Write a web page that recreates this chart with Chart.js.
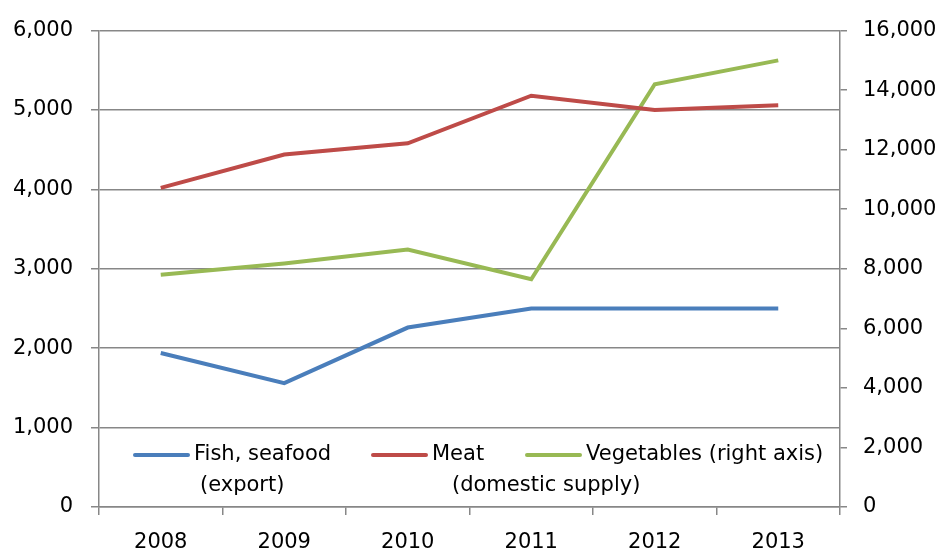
<!DOCTYPE html>
<html>
<head>
<meta charset="utf-8">
<script src="https://cdn.jsdelivr.net/npm/chart.js@4/dist/chart.umd.min.js"></script>
<style>
html,body{margin:0;padding:0;background:#fff;}
#wrap{width:941px;height:554px;}
</style>
</head>
<body>
<div id="wrap"><canvas id="chart"></canvas></div>
<script>
// data
const years = ['2008', '2009', '2010', '2011', '2012', '2013'];
const fishExport = [1940, 1560, 2260, 2500, 2500, 2500];
const meatSupply = [4020, 4440, 4580, 5180, 5000, 5060];
const vegetables = [7800, 8180, 8650, 7650, 14200, 15000];
const seriesNames = [['Fish, seafood', '(export)'], ['Meat', '(domestic supply)'], ['Vegetables (right axis)']];
const leftMax = 6000, leftStep = 1000;
const rightMax = 16000, rightStep = 2000;

const FONT_FAMILY = '"DejaVu Sans", sans-serif';
const FONT_SIZE = 21;
const GRID = '#878787';

//#####################
// Legend drawn inside the plot, with wrapped labels
//#####################
const wrappedLegend = {
    id: 'wrappedLegend',
    afterDraw(chart) {
        const ctx = chart.ctx;
        const area = chart.chartArea;
        const starts = [36, 274, 428];
        const indents = [6, 20, 0];
        ctx.save();
        ctx.font = FONT_SIZE + 'px ' + FONT_FAMILY;
        ctx.textBaseline = 'middle';
        ctx.textAlign = 'left';
        chart.data.datasets.forEach((ds, i) => {
            const x = area.left + starts[i];
            const y = area.bottom - 52;
            ctx.strokeStyle = ds.borderColor;
            ctx.lineWidth = 4;
            ctx.lineCap = 'round';
            ctx.beginPath();
            ctx.moveTo(x, y);
            ctx.lineTo(x + 53, y);
            ctx.stroke();
            ctx.fillStyle = '#000';
            ctx.fillText(ds.label[0], x + 59, y);
            if (ds.label[1]) ctx.fillText(ds.label[1], x + 59 + indents[i], y + 31);
        });
        ctx.restore();
    }
};

const fmt = v => v.toLocaleString('en-US');

const lineStyle = (color) => ({
    borderColor: color,
    backgroundColor: color,
    borderWidth: 4,
    pointRadius: 0,
    tension: 0,
    fill: false
});

new Chart(document.getElementById('chart'), {
    type: 'line',
    data: {
        labels: years,
        datasets: [
            Object.assign({ label: seriesNames[0], data: fishExport, yAxisID: 'y' }, lineStyle('#4a7ebb')),
            Object.assign({ label: seriesNames[1], data: meatSupply, yAxisID: 'y' }, lineStyle('#be4b48')),
            Object.assign({ label: seriesNames[2], data: vegetables, yAxisID: 'y2' }, lineStyle('#98b954'))
        ]
    },
    options: {
        responsive: true,
        maintainAspectRatio: false,
        animation: false,
        layout: { padding: { top: 28, left: 0, right: 0, bottom: 0 } },
        plugins: {
            legend: { display: false },
            tooltip: { enabled: false }
        },
        scales: {
            x: {
                offset: true,
                afterFit: s => { s.height = 47; },
                grid: { offset: true, drawOnChartArea: false, tickLength: 8, color: GRID, lineWidth: 1.5 },
                border: { color: GRID, width: 1.5 },
                ticks: { color: '#000', padding: 15, font: { family: FONT_FAMILY, size: FONT_SIZE } }
            },
            y: {
                position: 'left',
                min: 0,
                max: leftMax,
                afterFit: s => { s.width = 99; },
                grid: { color: GRID, lineWidth: 1.5, tickLength: 8 },
                border: { color: GRID, width: 1.5 },
                ticks: { stepSize: leftStep, color: '#000', padding: 18, callback: fmt,
                         font: { family: FONT_FAMILY, size: FONT_SIZE } }
            },
            y2: {
                position: 'right',
                min: 0,
                max: rightMax,
                afterFit: s => { s.width = 101; },
                grid: { drawOnChartArea: false, color: GRID, lineWidth: 1.5, tickLength: 7 },
                border: { color: GRID, width: 1.5 },
                ticks: { stepSize: rightStep, color: '#000', padding: 16, callback: fmt,
                         font: { family: FONT_FAMILY, size: FONT_SIZE } }
            }
        }
    },
    plugins: [wrappedLegend]
});
</script>
</body>
</html>
